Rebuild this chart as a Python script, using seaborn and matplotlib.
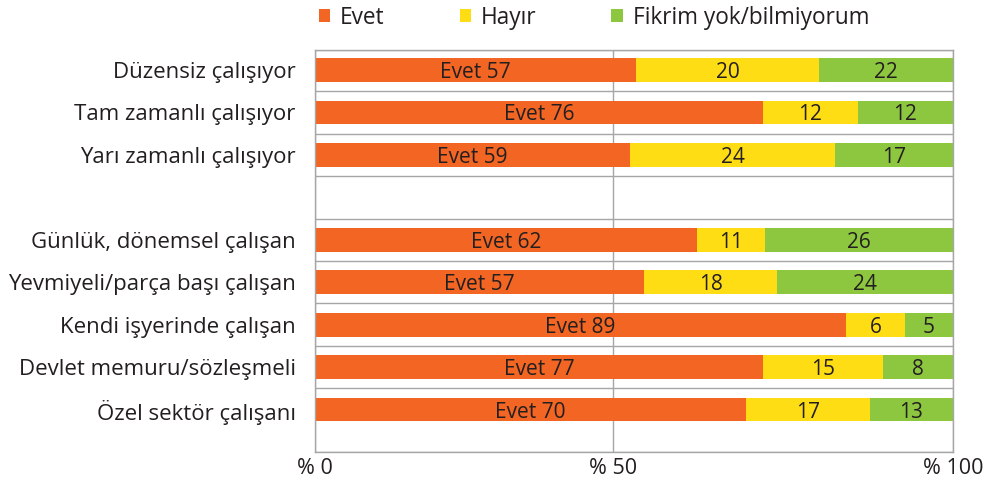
# %%
'''import libraries'''

import pandas as pd
import seaborn as sns
import matplotlib.pyplot as plt
from matplotlib.patches import Patch

# %%
'''data read from the chart'''

categories = ['Düzensiz çalışıyor', 'Tam zamanlı çalışıyor', 'Yarı zamanlı çalışıyor', ' ',
              'Günlük, dönemsel çalışan', 'Yevmiyeli/parça başı çalışan', 'Kendi işyerinde çalışan',
              'Devlet memuru/sözleşmeli', 'Özel sektör çalışanı']
groups = [c for c in categories if c.strip()]  # the blank one is only a gap row

series = ['Evet', 'Hayır', 'Fikrim yok/bilmiyorum']

# numbers printed on the bars
evet_lbl = [57, 76, 59, 62, 57, 89, 77, 70]
hayir_lbl = [20, 12, 24, 11, 18, 6, 15, 17]
fikrim_lbl = [22, 12, 17, 26, 24, 5, 8, 13]

# bar lengths as drawn in the chart (share of the 0-100 axis)
evet_bar = [50.3, 70.2, 49.4, 59.9, 51.6, 83.2, 70.2, 67.6]
hayir_bar = [28.7, 14.9, 32.1, 10.6, 20.8, 9.3, 18.8, 19.4]
fikrim_bar = [21.0, 14.9, 18.5, 29.5, 27.6, 7.5, 11.0, 13.0]

tick_pos = [0, 46.7, 100]
tick_labels = ['% 0', '% 50', '% 100']

# %%
df = pd.DataFrame({'grup': groups, 'evet': evet_bar, 'hayir': hayir_bar, 'fikrim': fikrim_bar})
df['evet_hayir'] = df['evet'] + df['hayir']
df['toplam'] = df['evet_hayir'] + df['fikrim']

# %%
'''plot the data'''

orange, yellow, green = '#F26522', '#FFDD15', '#8DC63F'
grid_c = '#A6A6A6'
txt_c = '#231F20'

sns.set_style('white')
plt.rcParams['font.family'] = ['Open Sans', 'DejaVu Sans']
plt.rcParams['text.color'] = txt_c

fig = plt.figure(figsize=(9.99, 4.84), dpi=100)
ax = fig.add_axes([0.3153, 0.0661, 0.6386, 0.8306])

# stacked bars: draw cumulative totals back to front
for col, c in [('toplam', green), ('evet_hayir', yellow), ('evet', orange)]:
    sns.barplot(data=df, y='grup', x=col, order=categories, color=c, saturation=1,
                width=0.56, orient='h', errorbar=None, linewidth=0, ax=ax)

# data labels
fs = 15
for i, g in enumerate(groups):
    y = categories.index(g)
    r = df.iloc[i]
    kw = dict(ha='center', va='center_baseline', fontsize=fs, color=txt_c)
    ax.text(r['evet'] / 2, y, f'Evet {evet_lbl[i]}', **kw)
    ax.text(r['evet'] + r['hayir'] / 2, y, f'{hayir_lbl[i]}', **kw)
    ax.text(r['evet_hayir'] + r['fikrim'] / 2, y, f'{fikrim_lbl[i]}', **kw)

ax.set_xlim(0, 100)
ax.set_ylim(9.0, -0.47)
ax.set(xlabel='', ylabel='')

ax.set_xticks(tick_pos)
ax.set_xticklabels(tick_labels, fontsize=15.5, color=txt_c)
ax.tick_params(axis='x', length=0, pad=4)
ax.grid(axis='x', color=grid_c, linewidth=1)

# category separators with small outward ticks
bounds = [-0.47] + [k + 0.5 for k in range(8)] + [9.0]
ax.set_yticks(bounds, minor=True)
ax.tick_params(axis='y', which='minor', length=8, width=1, color=grid_c, direction='out')
ax.tick_params(axis='y', which='major', length=0, pad=14, labelsize=16, labelcolor=txt_c)
ax.grid(axis='y', which='minor', color=grid_c, linewidth=1)
ax.grid(axis='y', which='major', visible=False)
ax.set_axisbelow(True)

for s in ax.spines.values():
    s.set_color(grid_c)
    s.set_linewidth(1)

handles = [Patch(facecolor=c, edgecolor='none') for c in (orange, yellow, green)]
fig.legend(handles, series, loc='center left', bbox_to_anchor=(0.319, 0.963), ncol=3,
           frameon=False, fontsize=16.3, handlelength=0.5, handleheight=0.5,
           handletextpad=0.45, columnspacing=3.3, borderpad=0, borderaxespad=0)

plt.savefig('out.png', dpi=100)
